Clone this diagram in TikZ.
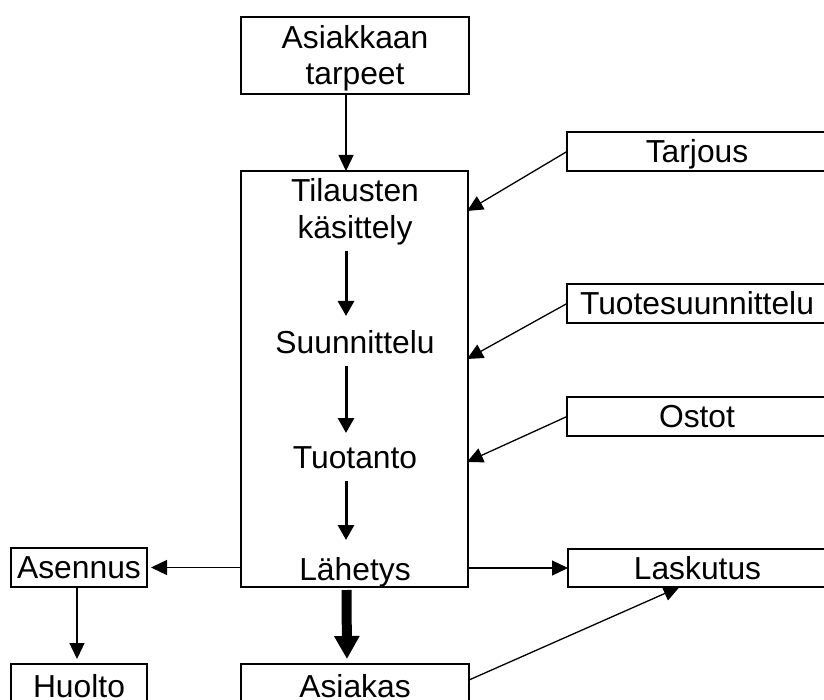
\documentclass[tikz,border=0pt]{standalone}
\usepackage{fontspec}
\setmainfont{Liberation Sans}
\usetikzlibrary{arrows.meta,calc}
\begin{document}
\begin{tikzpicture}[x=1pt,y=-1pt,
  txtfont/.style={font=\fontsize{31.8pt}{36.5pt}\selectfont},
  box/.style={draw, line width=2pt, inner sep=0pt, outer sep=0pt, text height=22pt, text depth=0pt, txtfont},
  lbl/.style={inner sep=0pt, outer sep=0pt, text height=22pt, text depth=7pt, txtfont, anchor=base},
  arr/.style={line width=1.3pt, -{Triangle[length=16pt,width=15pt]}},
  arrin/.style={line width=3pt, -{Triangle[length=15pt,width=16pt]}},
  arrbig/.style={line width=10pt, -{Triangle[length=23pt,width=24pt]}},
]
\clip (0,0) rectangle (824,700);
\fill[white] (0,0) rectangle (824,700);

% boxes
\node[box, minimum width=228pt, minimum height=77pt, align=center, text height=58.5pt] (need) at (355,55.5) {Asiakkaan\\tarpeet};
\node[box, minimum width=227pt, minimum height=416pt] (main) at (354.5,379) {};
\node[lbl, align=center, text height=58.5pt] (til) at (355,238.5) {Tilausten\\käsittely};
\node[lbl] (suu) at (355,353) {Suunnittelu};
\node[lbl] (tuo) at (355,468) {Tuotanto};
\node[lbl] (lah) at (355,580) {Lähetys};

\node[box, minimum width=260pt, minimum height=39pt] (tarj) at (697,151.5) {Tarjous};
\node[box, minimum width=260pt, minimum height=39pt] (tuot) at (697,303.5) {Tuotesuunnittelu};
\node[box, minimum width=260pt, minimum height=39pt] (ost) at (697,416.5) {Ostot};
\node[box, minimum width=259pt, minimum height=38pt] (lask) at (697.5,568) {Laskutus};
\node[box, minimum width=136pt, minimum height=39pt] (asen) at (79,567.5) {Asennus};
\node[box, minimum width=136pt, minimum height=44pt] (huol) at (79,686) {Huolto};
\node[box, minimum width=228pt, minimum height=44pt] (asia) at (355,686) {Asiakas};

% connectors
\draw[arr] ([xshift=-9pt]need.south) -- ([xshift=-8.5pt]main.north);
\draw[arrin, shorten <=5.5pt, shorten >=15pt] ([xshift=-9pt]til.south) -- ([xshift=-9pt]suu.north);
\draw[arrin, shorten <=6pt, shorten >=13pt] ([xshift=-9pt]suu.south) -- ([xshift=-9pt]tuo.north);
\draw[arrin, shorten <=6pt, shorten >=18pt] ([xshift=-9pt]tuo.south) -- ([xshift=-9pt]lah.north);
\draw[arrbig, shorten <=3pt, shorten >=5pt] ([xshift=-8pt]main.south) -- ([xshift=-8pt]asia.north);
\draw[arr, shorten >=4pt] (main.west |- asen.east) -- (asen.east);
\draw[arr] (main.east |- lask.west) -- (lask.west);
\draw[arr, shorten >=5pt] ([xshift=-2pt]asen.south) -- ([xshift=-2pt]huol.north);
\draw[arr] ([yshift=6pt]asia.east) -- ([xshift=-18pt]lask.south);
\draw[arr] (tarj.west) -- ([yshift=-40pt,xshift=-1pt]main.north east);
\draw[arr] (tuot.west) -- ([yshift=-188pt,xshift=-1pt]main.north east);
\draw[arr] (ost.west) -- ([yshift=-291pt,xshift=-1pt]main.north east);
\end{tikzpicture}
\end{document}
